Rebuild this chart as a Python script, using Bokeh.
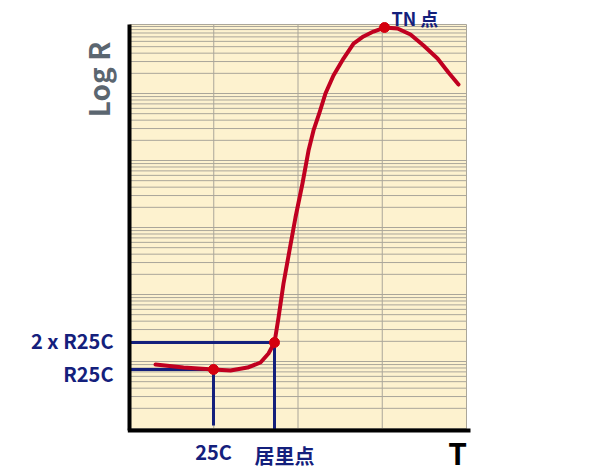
import math
from bokeh.plotting import figure
from bokeh.models import Label, Range1d
from bokeh.embed import file_html
from bokeh.resources import INLINE

# ---- data (T in grid units, log10 R) ----
curve_t = [0.309, 0.641, 0.997, 1.199, 1.401, 1.555, 1.650, 1.721, 1.769, 1.828, 1.899,
           1.970, 2.053, 2.125, 2.184, 2.255, 2.326, 2.421, 2.540, 2.659, 2.777, 2.896,
           3.027, 3.181, 3.335, 3.490, 3.656, 3.786, 3.905]
curve_logr = [0.955, 0.910, 0.881, 0.866, 0.910, 0.985, 1.119, 1.284, 1.657, 2.164, 2.657,
              3.149, 3.657, 4.149, 4.448, 4.716, 5.000, 5.269, 5.522, 5.746, 5.851, 5.925,
              5.985, 5.970, 5.881, 5.716, 5.522, 5.313, 5.134]
curve_r = [10 ** v for v in curve_logr]

key_names = ["25C", "居里点", "TN 点"]
key_t = [0.997, 1.721, 3.027]
key_logr = [0.881, 1.284, 5.985]
key_r = [10 ** v for v in key_logr]

ref_labels = ["R25C", "2 x R25C"]
ref_logr = [0.881, 1.284]
ref_r = [10 ** v for v in ref_logr]

# chart area (grid units / decades)
t_lo, t_hi = 0.0, 4.0
logr_lo, logr_hi = -0.03, 6.03
vgrid_t = [1, 2, 3, 4]
hgrid_r = [m * 10 ** k for k in range(0, 7) for m in range(1, 10)]

NAVY = "#14207c"
RED = "#c00020"
GRID = "#aaa69a"
BG = "#fdf2cf"
FONT = "Noto Sans CJK SC"

W, H = 598, 473
PX_PER_T = 84.25
PX_PER_DEC = 67.0
X0_PX, Y0_PX = 129, 428  # pixel of t=0 and log R = 0


def px_to_x(px):
    return (px - X0_PX) / PX_PER_T


def py_to_r(py):
    return 10 ** ((Y0_PX - py) / PX_PER_DEC)


p = figure(width=W, height=H, output_backend="svg", toolbar_location=None,
           x_range=Range1d(px_to_x(0), px_to_x(W)),
           y_range=Range1d(py_to_r(H), py_to_r(0)),
           y_axis_type="log", min_border=0)
p.axis.visible = False
p.grid.visible = False
p.outline_line_color = None
p.background_fill_color = "white"
p.border_fill_color = "white"

r_lo, r_hi = 10 ** logr_lo, 10 ** logr_hi

# chart background
p.quad(left=[t_lo], right=[t_hi], bottom=[r_lo], top=[r_hi], fill_color=BG, line_color=None)

# grid lines
hg = [r for r in hgrid_r if r_lo <= r <= r_hi]
p.segment(x0=[t_lo] * len(hg), y0=hg, x1=[t_hi] * len(hg), y1=hg, line_color=GRID, line_width=1)
p.segment(x0=vgrid_t, y0=[r_lo] * len(vgrid_t), x1=vgrid_t, y1=[r_hi] * len(vgrid_t),
          line_color=GRID, line_width=1)
p.segment(x0=[t_lo], y0=[r_hi], x1=[t_hi], y1=[r_hi], line_color=GRID, line_width=1)

# reference lines
p.segment(x0=[t_lo, t_lo], y0=ref_r, x1=key_t[:2], y1=ref_r, line_color=NAVY, line_width=3)
p.segment(x0=[key_t[0]], y0=[key_r[0]], x1=[key_t[0]], y1=[py_to_r(425)], line_color=NAVY, line_width=3)
p.segment(x0=[key_t[1]], y0=[key_r[1]], x1=[key_t[1]], y1=[r_lo], line_color=NAVY, line_width=3)

# axes
p.segment(x0=[t_lo], y0=[r_lo], x1=[t_lo], y1=[r_hi], line_color="black", line_width=4)
p.segment(x0=[t_lo - 0.02], y0=[r_lo], x1=[px_to_x(470)], y1=[r_lo], line_color="black", line_width=4)

# curve
p.line(curve_t, curve_r, line_color=RED, line_width=4, line_join="round", line_cap="round")
p.scatter(key_t, key_r, size=10, fill_color="#d4000f", line_color="#d4000f")


def lab(text, x, y, size, color=NAVY, align="center", baseline="middle", angle=0.0):
    p.add_layout(Label(x=x, y=y, text=text, text_font=FONT, text_font_style="bold",
                       text_font_size=size, text_color=color, text_align=align,
                       text_baseline=baseline, angle=angle))


# reference labels on the left
lab(ref_labels[0], px_to_x(113), py_to_r(373), "20px", align="right")
lab(ref_labels[1], px_to_x(113), py_to_r(340), "20px", align="right")
# key labels
lab(key_names[0], key_t[0], py_to_r(451), "20px")
lab(key_names[1], px_to_x(284), py_to_r(455), "20px")
lab(key_names[2], px_to_x(391), py_to_r(17), "18px", align="left")
# axis titles
lab("T", px_to_x(457), py_to_r(451), "30px", color="black")
lab("Log R", px_to_x(97), py_to_r(79), "28px", color="#5b6670", angle=math.pi / 2)

open("out.html", "w").write(file_html(p, INLINE))
